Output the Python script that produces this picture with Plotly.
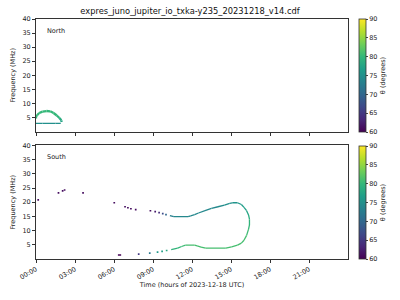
import plotly.graph_objects as go
from plotly.colors import sample_colorscale

# ---------------- data ----------------
TITLE = "expres_juno_jupiter_io_txka-y235_20231218_v14.cdf"
tick_hours = [0, 3, 6, 9, 12, 15, 18, 21]
tick_labels = ["00:00", "03:00", "06:00", "09:00", "12:00", "15:00", "18:00", "21:00"]
freq_ticks = [5, 10, 15, 20, 25, 30, 35, 40]
cb_ticks = [60, 65, 70, 75, 80, 85, 90]

# North hemisphere – continuous branches (time h, freq MHz, theta deg)
north_top_t = [0.0, 0.0, 0.1, 0.25, 0.5, 0.8, 1.1, 1.35, 1.6, 1.8, 1.95, 1.97]
north_top_f = [4.6, 5.4, 5.9, 6.6, 7.1, 7.3, 7.2, 6.6, 5.7, 4.8, 4.0, 3.4]
north_top_th = [80, 80, 80, 80, 80, 80, 80, 80, 80, 79, 78, 77]
north_bot_t = [0.0, 0.5, 1.0, 1.5, 1.9]
north_bot_f = [2.9, 2.9, 2.9, 2.9, 2.9]
north_bot_th = [75, 75, 75, 75, 75]

# South hemisphere – isolated detections
south_dot_t = [0.17, 1.73, 2.05, 2.2, 3.62, 6.02, 6.85, 7.07, 7.3, 7.67, 8.8, 9.17, 9.47, 9.75, 10.0,
               7.9, 8.75, 9.35, 9.7, 10.05]
south_dot_f = [20.8, 23.3, 24.0, 24.3, 23.3, 19.8, 18.4, 18.05, 17.7, 17.4, 17.0, 16.7, 16.3, 16.0, 15.6,
               1.7, 2.1, 2.4, 2.7, 3.0]
south_dot_th = [61, 61, 61, 61, 61, 61, 61, 61, 61, 61, 61, 62, 64, 67, 70,
                65, 72, 76, 77, 78]
# wide low-frequency dash
south_dash_t = [6.3, 6.55]
south_dash_f = [1.4, 1.4]
south_dash_th = [60, 60]

# South – upper branch (continuous)
south_up_t = [10.3, 10.6, 11.7, 11.9, 12.2, 12.5, 13.0, 13.5, 14.0, 14.5, 14.9, 15.1, 15.5, 15.8, 16.0,
              16.2, 16.35, 16.42, 16.42, 16.35, 16.2, 16.0, 15.8, 15.5, 15.05, 14.6, 13.05, 12.7, 12.4,
              12.2, 11.5, 11.2, 10.9, 10.4]
south_up_f = [15.3, 14.9, 14.9, 15.2, 15.6, 16.2, 17.0, 17.8, 18.4, 19.0, 19.6, 19.8, 19.8, 19.2, 18.2,
              17.0, 15.5, 14.0, 12.0, 10.5, 8.3, 6.6, 5.6, 4.9, 4.3, 3.85, 3.8, 4.2, 4.6,
              4.9, 4.9, 4.4, 3.8, 3.3]
south_up_th = [72, 74, 74, 74, 74, 74, 74, 74, 74, 75, 75, 75, 76, 76, 77,
               77, 78, 79, 80, 80, 81, 81, 81, 81, 81, 81, 81, 81, 81,
               81, 81, 80, 80, 79]

# ---------------- figure ----------------
fig = go.Figure()
CMIN, CMAX = 60, 90


def col(th):
    return sample_colorscale("Viridis", [(th - CMIN) / (CMAX - CMIN)])[0]


def add_branch(t, f, th, xa, ya, width):
    for i in range(len(t) - 1):
        fig.add_trace(go.Scatter(
            x=[t[i], t[i + 1]], y=[f[i], f[i + 1]], mode="lines",
            line=dict(color=col((th[i] + th[i + 1]) / 2), width=width),
            xaxis=xa, yaxis=ya, showlegend=False, hoverinfo="skip"))


add_branch(north_top_t, north_top_f, north_top_th, "x", "y", 2.3)
add_branch(north_bot_t, north_bot_f, north_bot_th, "x", "y", 1.1)
add_branch(south_up_t, south_up_f, south_up_th, "x2", "y2", 1.3)
add_branch(south_dash_t, south_dash_f, south_dash_th, "x2", "y2", 1.6)

fig.add_trace(go.Scatter(
    x=south_dot_t, y=south_dot_f, mode="markers",
    marker=dict(symbol="square", size=1.7, color=south_dot_th, coloraxis="coloraxis2", line=dict(width=0)),
    xaxis="x2", yaxis="y2", showlegend=False))
# colorbar carriers
fig.add_trace(go.Scatter(x=[None], y=[None], mode="markers",
                         marker=dict(color=[70], coloraxis="coloraxis"),
                         xaxis="x", yaxis="y", showlegend=False))

FONT = "DejaVu Sans"
TXT = "#222"
tickfont = dict(family=FONT, size=6.5, color=TXT)
labfont = dict(family=FONT, size=6.5, color=TXT)
axis_common = dict(showline=True, mirror=True, linecolor="#333", linewidth=0.9,
                   ticks="outside", ticklen=3, tickcolor="#333", tickwidth=0.8,
                   showgrid=False, zeroline=False, tickfont=tickfont)

cb_common = dict(thickness=7, lenmode="fraction", len=0.469, x=1.034, xanchor="left",
                 xpad=0, ypad=0,
                 tickvals=cb_ticks, ticks="outside", ticklen=2, tickfont=tickfont,
                 outlinewidth=0.8, outlinecolor="#333",
                 title=dict(text="θ (degrees)", side="right", font=labfont))

fig.update_layout(
    width=400, height=300,
    margin=dict(l=31, r=50, t=19, b=38),
    paper_bgcolor="white", plot_bgcolor="white",
    title=dict(text=TITLE, x=0.475, xanchor="center", y=0.962, yanchor="middle",
               font=dict(family=FONT, size=8.3, color="#111")),
    xaxis=dict(domain=[0, 1], range=[0, 24], tickvals=tick_hours, showticklabels=False,
               anchor="y", **axis_common),
    yaxis=dict(domain=[0.531, 1], range=[0, 40], tickvals=freq_ticks, anchor="x",
               title=dict(text="Frequency (MHz)", standoff=6, font=labfont),
               **axis_common),
    xaxis2=dict(domain=[0, 1], range=[0, 24], tickvals=tick_hours, ticktext=tick_labels,
                tickangle=-30, anchor="y2",
                title=dict(text="Time (hours of 2023-12-18 UTC)", standoff=2, font=labfont),
                **axis_common),
    yaxis2=dict(domain=[0, 0.4733], range=[0, 40], tickvals=freq_ticks, anchor="x2",
                title=dict(text="Frequency (MHz)", standoff=6, font=labfont),
                **axis_common),
    coloraxis=dict(colorscale="Viridis", cmin=CMIN, cmax=CMAX,
                   colorbar=dict(y=1, yanchor="top", **cb_common)),
    coloraxis2=dict(colorscale="Viridis", cmin=CMIN, cmax=CMAX,
                    colorbar=dict(y=0, yanchor="bottom", **cb_common)),
    annotations=[
        dict(text="North", x=0.03, y=0.95, xref="x domain", yref="y domain", showarrow=False,
             xanchor="left", yanchor="top", font=labfont),
        dict(text="South", x=0.03, y=0.95, xref="x2 domain", yref="y2 domain", showarrow=False,
             xanchor="left", yanchor="top", font=labfont),
    ],
)

fig.write_html("out.html")
